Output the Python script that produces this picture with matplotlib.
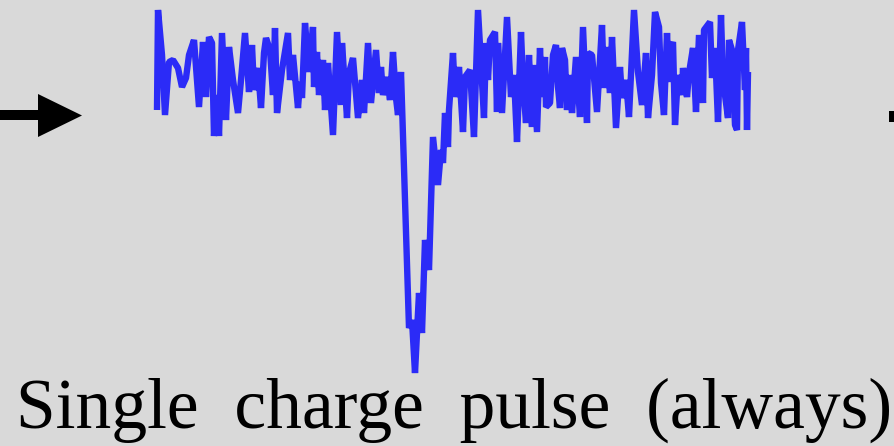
import matplotlib
matplotlib.use("Agg")
import matplotlib.pyplot as plt
from matplotlib.patches import Polygon, Rectangle

# sample time (arbitrary units) and pulse amplitude (arbitrary units, baseline 0)
time_ns = [0, 1, 5, 8, 12, 16, 21, 25, 29, 32, 37, 42, 46, 49, 52, 55, 57, 60, 62, 65,
           69, 72, 76, 81, 84, 88, 92, 95, 97, 101, 104, 107, 109, 113, 116, 118, 120, 125, 131, 133,
           136, 141, 143, 145, 148, 152, 156, 157, 160, 162, 166, 168, 171, 176, 180, 184, 185, 190, 192, 196,
           201, 205, 207, 211, 214, 219, 222, 224, 226, 230, 233, 236, 239, 241, 244, 252, 255, 258, 262, 265,
           268, 272, 276, 281, 284, 286, 288, 291, 292, 296, 298, 302, 306, 308, 313, 317, 321, 327, 329, 331,
           333, 338, 340, 341, 345, 350, 354, 357, 360, 364, 366, 369, 372, 375, 376, 380, 383, 385, 388, 389,
           393, 396, 399, 401, 403, 405, 408, 410, 413, 415, 419, 423, 426, 430, 431, 435, 440, 445, 447, 450,
           453, 455, 459, 463, 465, 469, 472, 477, 481, 485, 489, 491, 495, 498, 502, 504, 507, 510, 512, 514,
           516, 518, 521, 525, 526, 530, 532, 536, 539, 542, 546, 547, 553, 555, 558, 561, 564, 566, 571, 572,
           575, 578, 580, 581, 585, 588, 589, 590, 591]
amplitude = [-30, 70, 25, -35, 18, 20, 12, -7, 2, 25, 40, -27, 38, -17, 43, 37, -56, -15, -56, 47,
             -40, 33, 0, -33, 0, 47, -12, 35, -10, 12, -28, 27, 42, 30, -15, 52, -33, 10, 47, 0,
             25, -28, -2, -18, 57, 8, 53, -7, 28, -15, 20, -30, 17, -55, 48, -25, 37, -38, 7, 22,
             -38, 0, -33, 37, -23, 30, -13, 13, -15, 3, -20, 28, -18, -35, 8, -248, -240, -293, -213, -253,
             -160, -190, -57, -105, -70, -83, -33, -67, -30, 27, -17, 13, -52, 3, 10, -57, 70, -38, 37, 0,
             40, 48, -32, 37, -33, 63, -17, 5, -62, 48, -2, -43, 25, -47, 15, -52, 32, -17, 23, -27,
             -23, 25, 35, -7, -28, 32, 20, -30, 5, -33, 23, -37, 53, -43, 27, 25, -32, 55, -8, 33,
             -13, 43, -48, 13, -18, 0, -37, 70, 8, -25, 27, -38, 5, 68, 53, -3, -35, 47, -2, 33,
             38, -45, 5, -15, 12, -17, 7, 32, -32, 45, -23, 50, 58, 2, 32, -42, 65, 0, -38, 40,
             30, -45, -50, 30, 58, -10, 32, -50, 8]

caption = "Single  charge  pulse  (always)"

W, H = 894, 446
fig = plt.figure(figsize=(W / 100, H / 100), dpi=100)
fig.patch.set_facecolor("#d9d9d9")

# decoration axes in pixel units
deco = fig.add_axes([0, 0, 1, 1])
deco.set_xlim(0, W)
deco.set_ylim(H, 0)
deco.axis("off")
deco.add_patch(Rectangle((0, 110), 40, 9.5, facecolor="black", edgecolor="none"))
deco.add_patch(Polygon([(38, 94), (82, 115.5), (38, 137)], closed=True,
                       facecolor="black", edgecolor="none"))
deco.add_patch(Rectangle((889, 111), 10, 10.5, facecolor="black", edgecolor="none"))
deco.text(16, 428, caption, fontsize=51.5, family=["Liberation Serif", "DejaVu Serif"],
          color="black", ha="left", va="baseline")

# signal axes
ax = fig.add_axes([0, 0, 1, 1])
ax.patch.set_alpha(0)
ax.plot(time_ns, amplitude, color="#2b2bf7", lw=4.6, solid_joinstyle="bevel",
        solid_capstyle="butt")
ax.set_xlim(-157, 737)
ax.set_ylim(-366, 80)
ax.axis("off")

fig.savefig("out.png", dpi=100, facecolor=fig.get_facecolor())
